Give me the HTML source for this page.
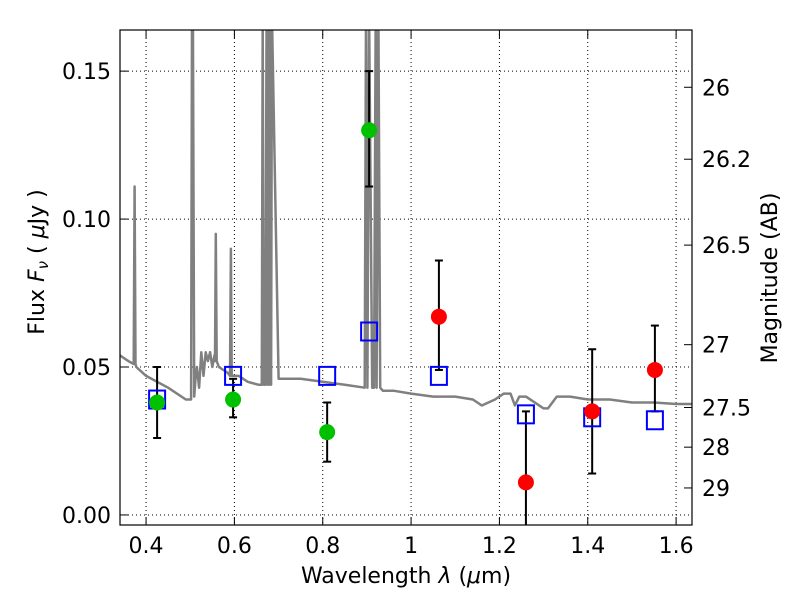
<!DOCTYPE html>
<html><head><meta charset="utf-8"><style>
body{margin:0;background:#fff;font-family:"DejaVu Sans","Liberation Sans",sans-serif}
svg text{font-family:"DejaVu Sans","Liberation Sans",sans-serif;font-size:22px;fill:#000}
</style></head><body>
<svg id="chart" width="800" height="600" xmlns="http://www.w3.org/2000/svg">
<defs><clipPath id="clip"><rect x="120" y="30" width="572" height="495"/></clipPath></defs>
<rect width="800" height="600" fill="#fff"/>
<g id="grid"></g>
<g clip-path="url(#clip)">
<path id="spec" fill="none" stroke="#808080" stroke-width="2.5" stroke-linejoin="round"/>
<g id="marks"></g>
</g>
<rect x="120" y="30" width="572" height="495" fill="none" stroke="#000" stroke-width="1.2"/>
<g id="axes"></g>
<text x="406" y="583" text-anchor="middle">Wavelength  <tspan font-style="italic">λ</tspan> (<tspan font-style="italic">μ</tspan>m)</text>
<text transform="translate(44,262) rotate(-90)" text-anchor="middle">Flux  <tspan font-style="italic">F</tspan><tspan font-style="italic" font-size="15" dy="4">ν</tspan><tspan dy="-4">  ( </tspan><tspan font-style="italic">μ</tspan>Jy )</text>
<text transform="translate(777,278) rotate(-90)" text-anchor="middle">Magnitude (AB)</text>
</svg>
<script>
const xTicks=[0.4,0.6,0.8,1.0,1.2,1.4,1.6];
const xTickLabels=["0.4","0.6","0.8","1","1.2","1.4","1.6"];
const yTicks=[0,0.05,0.10,0.15];
const yTickLabels=["0.00","0.05","0.10","0.15"];
const magTicks=[26,26.2,26.5,27,27.5,28,29];
const magTickLabels=["26","26.2","26.5","27","27.5","28","29"];
const specWave=[0.34,0.36,0.372,0.374,0.376,0.378,0.40,0.45,0.49,0.502,0.504,0.506,0.509,0.512,0.515,0.52,0.525,0.53,0.535,0.54,0.545,0.55,0.555,0.556,0.558,0.560,0.565,0.575,0.585,0.590,0.592,0.594,0.61,0.63,0.655,0.662,0.664,0.666,0.670,0.673,0.675,0.677,0.679,0.681,0.683,0.685,0.70,0.75,0.80,0.85,0.895,0.898,0.901,0.905,0.912,0.916,0.920,0.922,0.926,0.930,0.936,0.96,1.0,1.05,1.1,1.14,1.16,1.19,1.21,1.225,1.235,1.245,1.26,1.30,1.31,1.33,1.36,1.40,1.45,1.5,1.55,1.6,1.64];
const specFlux=[0.054,0.052,0.051,0.111,0.051,0.050,0.047,0.043,0.039,0.039,0.170,0.170,0.040,0.046,0.050,0.043,0.055,0.047,0.055,0.052,0.055,0.050,0.054,0.052,0.095,0.052,0.050,0.049,0.048,0.047,0.090,0.047,0.047,0.045,0.044,0.044,0.170,0.044,0.044,0.170,0.044,0.170,0.044,0.170,0.044,0.170,0.046,0.046,0.045,0.044,0.043,0.170,0.043,0.170,0.043,0.043,0.170,0.043,0.170,0.043,0.042,0.042,0.041,0.040,0.040,0.039,0.037,0.039,0.041,0.041,0.037,0.040,0.040,0.036,0.036,0.040,0.040,0.039,0.039,0.038,0.038,0.0375,0.0375];
const greenWave=[0.425,0.597,0.81,0.905];
const greenFlux=[0.038,0.039,0.028,0.130];
const greenLo=[0.026,0.033,0.018,0.111];
const greenHi=[0.050,0.046,0.038,0.150];
const redWave=[1.063,1.26,1.41,1.552];
const redFlux=[0.067,0.011,0.035,0.049];
const redLo=[0.049,-0.010,0.014,0.035];
const redHi=[0.086,0.035,0.056,0.064];
const modelWave=[0.425,0.597,0.81,0.905,1.063,1.26,1.41,1.552];
const modelFlux=[0.039,0.047,0.047,0.062,0.047,0.034,0.033,0.032];

const X0=0.341,X1=1.636,Y0=-0.0034,Y1=0.1639;
const sx=v=>120+(v-X0)/(X1-X0)*572;
const sy=v=>525-(v-Y0)/(Y1-Y0)*495;
const NS="http://www.w3.org/2000/svg";
function mk(tag,attrs,parent){const e=document.createElementNS(NS,tag);for(const k in attrs)e.setAttribute(k,attrs[k]);parent.appendChild(e);return e;}
const grid=document.getElementById('grid'),axes=document.getElementById('axes'),marks=document.getElementById('marks');
xTicks.forEach((t,i)=>{const x=sx(t);
 const g=mk('line',{x1:x,x2:x,y1:30,y2:525,stroke:'#000','stroke-width':1,'stroke-dasharray':'1,3'},grid);
 
 mk('line',{x1:x,x2:x,y1:525,y2:517,stroke:'#000'},axes);mk('line',{x1:x,x2:x,y1:30,y2:38,stroke:'#000'},axes);
 const tx=mk('text',{x:x,y:553,'text-anchor':'middle'},axes);tx.textContent=xTickLabels[i];
 });
yTicks.forEach((t,i)=>{const y=sy(t);
 const g=mk('line',{x1:120,x2:692,y1:y,y2:y,stroke:'#000','stroke-width':1,'stroke-dasharray':'1,3'},grid);
 
 mk('line',{x1:120,x2:128,y1:y,y2:y,stroke:'#000'},axes);
 const tx=mk('text',{x:111,y:y+8,'text-anchor':'end'},axes);tx.textContent=yTickLabels[i];
 });
magTicks.forEach((m,i)=>{const y=sy(Math.pow(10,(23.9-m)/2.5));
 mk('line',{x1:692,x2:684,y1:y,y2:y,stroke:'#000'},axes);
 const tx=mk('text',{x:702,y:y+8,'text-anchor':'start'},axes);tx.textContent=magTickLabels[i];
 });
document.getElementById('spec').setAttribute('d',specWave.map((w,i)=>(i?'L':'M')+sx(w).toFixed(1)+','+sy(specFlux[i]).toFixed(1)).join(''));
function errs(W,F,L,H,name){W.forEach((w,i)=>{const x=sx(w);
 const e=mk('g',{stroke:'#000','stroke-width':2},marks);
 
 mk('line',{x1:x,x2:x,y1:sy(L[i]),y2:sy(H[i])},e);
 mk('line',{x1:x-4,x2:x+4,y1:sy(L[i]),y2:sy(L[i])},e);mk('line',{x1:x-4,x2:x+4,y1:sy(H[i]),y2:sy(H[i])},e);});}
function dots(W,F,col,name){W.forEach((w,i)=>{const c=mk('circle',{cx:sx(w),cy:sy(F[i]),r:8,fill:col},marks);
 });}
errs(greenWave,greenFlux,greenLo,greenHi,'green-point');
errs(redWave,redFlux,redLo,redHi,'red-point');
modelWave.forEach((w,i)=>{const r=mk('rect',{x:sx(w)-8,y:sy(modelFlux[i])-9,width:16,height:18,fill:'none',stroke:'#0000ff','stroke-width':2},marks);
 });
dots(greenWave,greenFlux,'#00c000','green-point');
dots(redWave,redFlux,'#ff0000','red-point');
</script>
</body></html>
